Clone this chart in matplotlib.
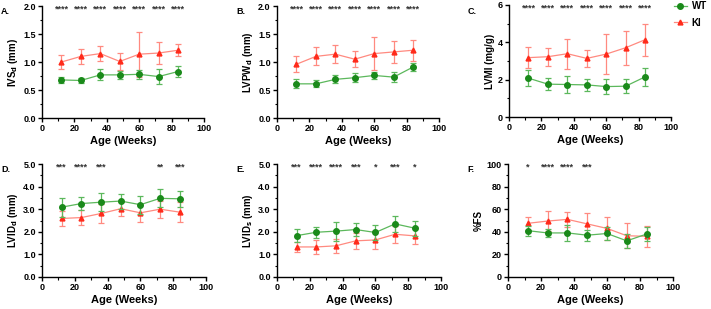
import matplotlib
matplotlib.use("Agg")
import matplotlib.pyplot as plt
from matplotlib.ticker import MultipleLocator, FuncFormatter
from matplotlib.lines import Line2D

plt.rcParams['font.family'] = ['Liberation Sans', 'DejaVu Sans']
plt.rcParams['font.weight'] = 'bold'
plt.rcParams['mathtext.default'] = 'bf'

weeks = [12, 24, 36, 48, 60, 72, 84]

ivsd_wt = [0.68, 0.67, 0.77, 0.77, 0.78, 0.74, 0.83]
ivsd_wt_err = [0.06, 0.05, 0.10, 0.07, 0.08, 0.14, 0.09]
ivsd_ki = [1.00, 1.10, 1.15, 1.01, 1.14, 1.16, 1.21]
ivsd_ki_err = [0.13, 0.13, 0.14, 0.15, 0.40, 0.20, 0.11]

lvpwd_wt = [0.61, 0.61, 0.69, 0.72, 0.76, 0.73, 0.91]
lvpwd_wt_err = [0.08, 0.06, 0.07, 0.08, 0.07, 0.09, 0.07]
lvpwd_ki = [0.96, 1.10, 1.14, 1.05, 1.15, 1.18, 1.21]
lvpwd_ki_err = [0.14, 0.16, 0.16, 0.14, 0.30, 0.19, 0.19]

lvmi_wt = [2.08, 1.76, 1.74, 1.72, 1.63, 1.65, 2.15]
lvmi_wt_err = [0.44, 0.32, 0.45, 0.34, 0.40, 0.37, 0.50]
lvmi_ki = [3.18, 3.23, 3.39, 3.14, 3.37, 3.71, 4.14]
lvmi_ki_err = [0.55, 0.48, 0.80, 0.47, 1.05, 0.92, 0.85]

lvidd_wt = [3.09, 3.25, 3.31, 3.36, 3.20, 3.48, 3.46]
lvidd_wt_err = [0.42, 0.27, 0.40, 0.33, 0.40, 0.40, 0.36]
lvidd_ki = [2.59, 2.63, 2.81, 3.02, 2.84, 3.00, 2.87]
lvidd_ki_err = [0.35, 0.32, 0.40, 0.30, 0.40, 0.38, 0.43]

lvids_wt = [1.83, 1.98, 2.03, 2.10, 1.97, 2.35, 2.16]
lvids_wt_err = [0.30, 0.24, 0.42, 0.27, 0.35, 0.35, 0.34]
lvids_ki = [1.33, 1.33, 1.38, 1.60, 1.64, 1.89, 1.82]
lvids_ki_err = [0.22, 0.32, 0.30, 0.35, 0.40, 0.38, 0.37]

fs_wt = [41.0, 39.0, 39.0, 37.0, 38.5, 32.0, 38.0]
fs_wt_err = [4.5, 3.5, 7.0, 5.0, 6.0, 6.0, 6.0]
fs_ki = [47.5, 49.5, 51.0, 47.0, 43.0, 36.5, 36.0]
fs_ki_err = [6.0, 8.5, 6.5, 9.5, 10.5, 11.0, 9.5]

sig_a = ['****'] * 7
sig_b = ['****'] * 7
sig_c = ['****'] * 7
sig_d = ['***', '****', '***', '', '', '**', '***']
sig_e = ['***', '****', '****', '***', '*', '***', '*']
sig_f = ['*', '****', '****', '***', '', '', '']

panels = [
    ('A.', r'IVS$_d$ (mm)', ivsd_wt, ivsd_wt_err, ivsd_ki, ivsd_ki_err, sig_a, 2.0, 0.5, 0.25, '{:.1f}'),
    ('B.', r'LVPW$_d$ (mm)', lvpwd_wt, lvpwd_wt_err, lvpwd_ki, lvpwd_ki_err, sig_b, 2.0, 0.5, 0.25, '{:.1f}'),
    ('C.', 'LVMI (mg/g)', lvmi_wt, lvmi_wt_err, lvmi_ki, lvmi_ki_err, sig_c, 6, 2, 1, '{:.0f}'),
    ('D.', r'LVID$_d$ (mm)', lvidd_wt, lvidd_wt_err, lvidd_ki, lvidd_ki_err, sig_d, 5.0, 1.0, 0.5, '{:.1f}'),
    ('E.', r'LVID$_s$ (mm)', lvids_wt, lvids_wt_err, lvids_ki, lvids_ki_err, sig_e, 5.0, 1.0, 0.5, '{:.1f}'),
    ('F.', '%FS', fs_wt, fs_wt_err, fs_ki, fs_ki_err, sig_f, 100, 20, 10, '{:.0f}'),
]

W, H = 711, 309
boxes = [
    (42, 204, 6, 118), (277, 439, 6, 118), (509, 671, 5, 117),
    (42, 206, 164, 277), (277, 441, 164, 277), (508, 673, 164, 277),
]

green = '#1a8a1a'
green_l = '#5cb85c'
red = '#ff2a1a'
red_l = '#ff8a80'

fig = plt.figure(figsize=(W / 100, H / 100), dpi=100)

for i, (p, box) in enumerate(zip(panels, boxes)):
    lab, ylab, wt, wte, ki, kie, sig, ymax, maj, mnr, fmt = p
    l, r, t, b = box
    ax = fig.add_axes([l / W, 1 - b / H, (r - l) / W, (b - t) / H])
    ax.errorbar(weeks, ki, yerr=kie, color=red_l, ecolor=red_l, lw=0.9,
                capsize=2.5, capthick=0.9, elinewidth=0.9, marker='^',
                markersize=3.5, markerfacecolor=red, markeredgecolor=red, zorder=2,
                clip_on=False)
    ax.errorbar(weeks, wt, yerr=wte, color=green_l, ecolor=green_l, lw=0.9,
                capsize=2.5, capthick=0.9, elinewidth=0.9, marker='o',
                markersize=4, markerfacecolor=green, markeredgecolor=green, zorder=3,
                clip_on=False)
    for x, s in zip(weeks, sig):
        if s:
            ax.text(x, ymax * 0.975, s, ha='center', va='center', fontsize=6.5,
                    color='#333333')
    ax.set_xlim(0, 100)
    ax.set_ylim(0, ymax)
    ax.xaxis.set_major_locator(MultipleLocator(20))
    ax.xaxis.set_minor_locator(MultipleLocator(10))
    ax.yaxis.set_major_locator(MultipleLocator(maj))
    ax.yaxis.set_minor_locator(MultipleLocator(mnr))
    ax.yaxis.set_major_formatter(FuncFormatter(lambda v, pos, f=fmt: f.format(v)))
    for s in ['top', 'right']:
        ax.spines[s].set_visible(False)
    for s in ['left', 'bottom']:
        ax.spines[s].set_linewidth(1.0)
    ax.tick_params(which='major', direction='out', length=3, width=1.0, labelsize=6.5, pad=1.5)
    ax.tick_params(which='minor', direction='out', length=1.8, width=0.8)
    for tl in ax.get_xticklabels() + ax.get_yticklabels():
        tl.set_fontweight('bold')
    ax.set_xlabel('Age (Weeks)', fontsize=8, fontweight='bold', labelpad=2)
    ax.set_ylabel(ylab, fontsize=7, fontweight='bold', labelpad=2)
    fig.text((l - 42) / W + 1 / W, 1 - (t + 6) / H, lab, fontsize=6.5, fontweight='bold',
             ha='left', va='center')

handles = [
    Line2D([], [], color=green_l, lw=0.9, marker='o', markersize=4,
           markerfacecolor=green, markeredgecolor=green),
    Line2D([], [], color=red_l, lw=0.9, marker='^', markersize=3.5,
           markerfacecolor=red, markeredgecolor=red),
]
fig.legend(handles, ['WT', 'KI'], loc='upper left', bbox_to_anchor=(674 / W, 1 - 1 / H),
           frameon=False, fontsize=7, handlelength=1.3, handletextpad=0.5,
           labelspacing=0.7, borderpad=0, borderaxespad=0)

fig.savefig('out.png', dpi=100)
